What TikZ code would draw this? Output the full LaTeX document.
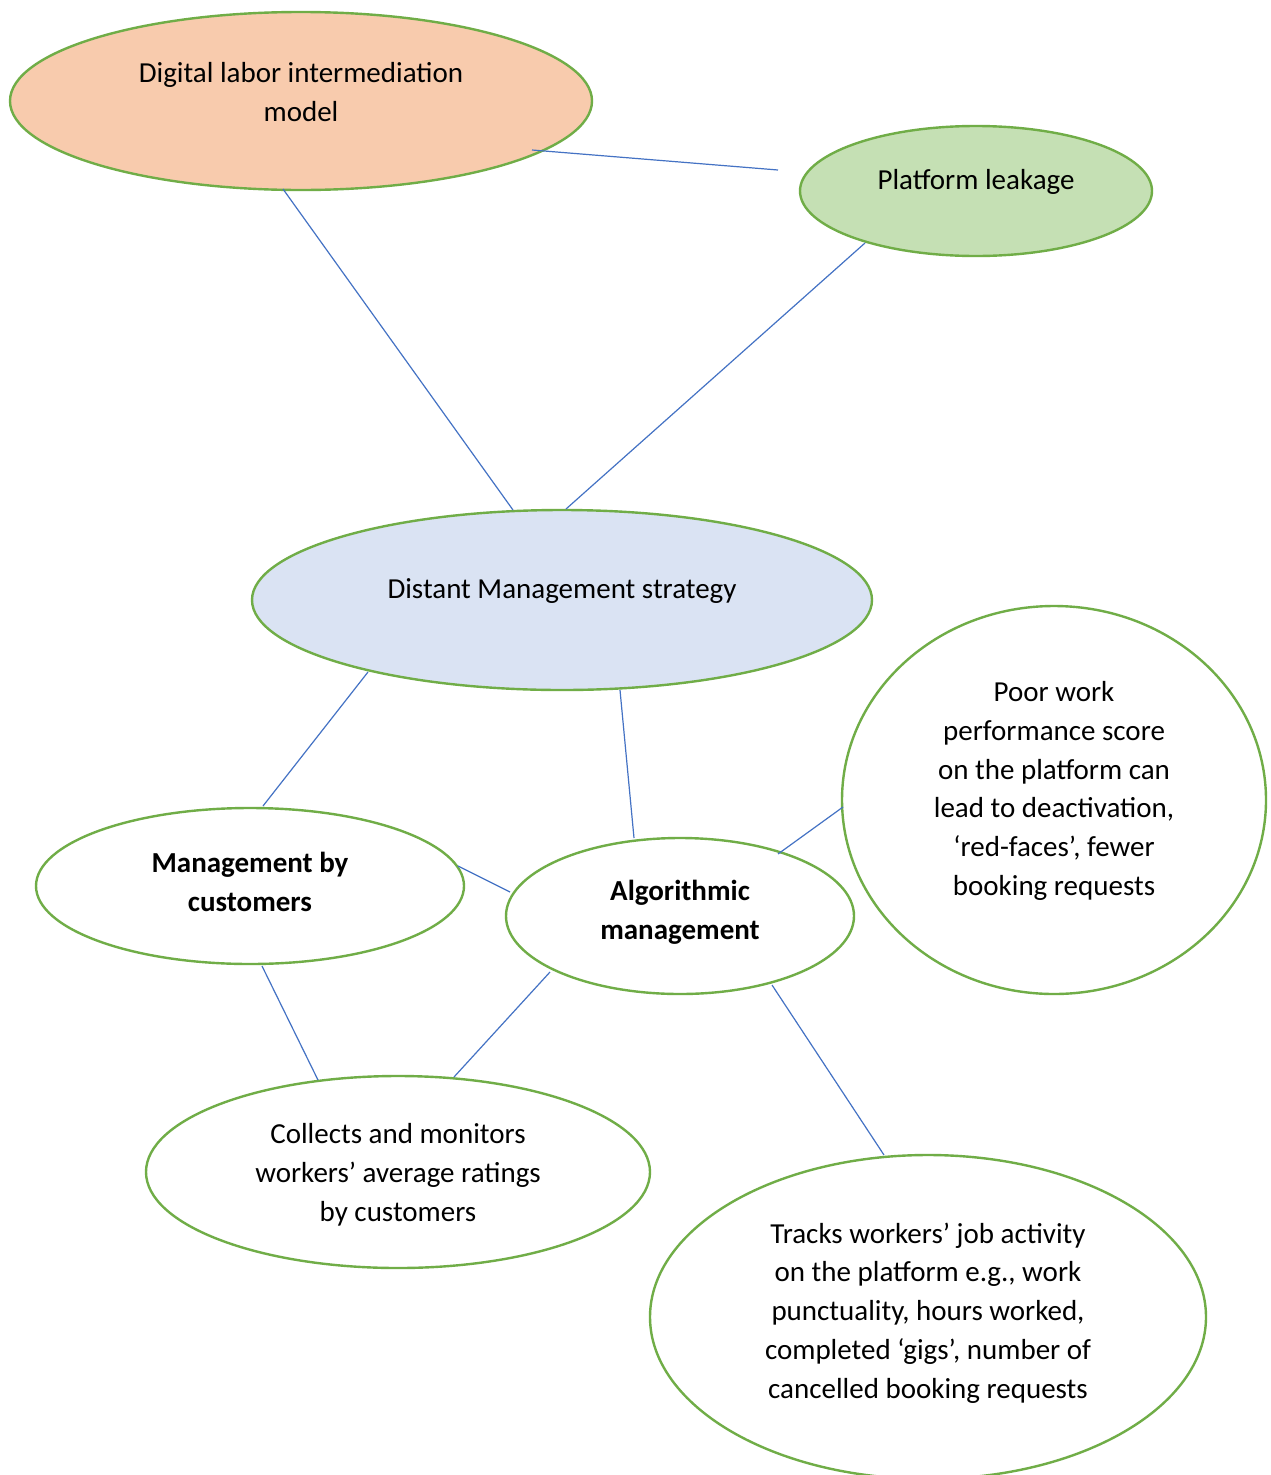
\documentclass[tikz,border=0pt]{standalone}
\usepackage{fontspec}
\setmainfont{Carlito}
\usetikzlibrary{shapes.geometric}
\definecolor{bord}{HTML}{70AD47}
\definecolor{conn}{HTML}{4472C4}
\definecolor{peach}{HTML}{F8CBAD}
\definecolor{lgreen}{HTML}{C5E0B4}
\definecolor{lblue}{HTML}{DAE3F3}
\tikzset{
  ell/.style={ellipse, draw=bord, line width=2.4pt, inner sep=0pt},
  txt/.style={align=center, font=\fontsize{29}{38.8}\selectfont, inner sep=0pt},
  btxt/.style={txt, font=\fontsize{29}{38.8}\selectfont\bfseries},
  conline/.style={draw=conn, line width=1.2pt}
}
\begin{document}
\begin{tikzpicture}[x=1pt,y=-1pt]
\useasboundingbox (0,0) rectangle (1270,1475);
\clip (0,0) rectangle (1270,1475);
\fill[white] (0,0) rectangle (1270,1475);
% ellipses
\node[ell, fill=peach, minimum width=582pt, minimum height=178pt] (dl) at (301,101) {};
\node[ell, fill=lgreen, minimum width=352pt, minimum height=130pt] (pl) at (976,191) {};
\node[ell, fill=lblue, minimum width=620pt, minimum height=180pt] (dm) at (562,600) {};
\node[ell, fill=white, minimum width=428pt, minimum height=156pt] (mc) at (250,886) {};
\node[ell, fill=white, minimum width=348pt, minimum height=156pt] (am) at (680,916) {};
\node[ell, fill=white, minimum width=424pt, minimum height=388pt] (pw) at (1054,800) {};
\node[ell, fill=white, minimum width=504pt, minimum height=192pt] (cm) at (398,1172) {};
\node[ell, fill=white, minimum width=556pt, minimum height=324pt] (tr) at (928,1317) {};
% texts
\node[txt] (dlt) at (301,92) {Digital labor intermediation\\model};
\node[txt] (plt) at (976,182) {Platform leakage};
\node[txt] (dmt) at (562,591) {Distant Management strategy};
\node[btxt] (mct) at (250,882) {Management by\\customers};
\node[btxt] (amt) at (680,912) {Algorithmic\\management};
\node[txt] (pwt) at (1054,791) {Poor work\\performance score\\on the platform can\\lead to deactivation,\\‘red-faces’, fewer\\booking requests};
\node[txt] (cmt) at (398,1175) {Collects and monitors\\workers’ average ratings\\by customers};
\node[txt] (trt) at (928,1313) {Tracks workers’ job activity\\on the platform e.g., work\\punctuality, hours worked,\\completed ‘gigs’, number of\\cancelled booking requests};
% connector endpoints
\coordinate (a1) at (532,150); \coordinate (a2) at (778,170);
\coordinate (b1) at (283,189); \coordinate (b2) at (513,510);
\coordinate (c1) at (865,243); \coordinate (c2) at (566,509);
\coordinate (d1) at (368,672); \coordinate (d2) at (263,806);
\coordinate (e1) at (620,690); \coordinate (e2) at (634,838);
\coordinate (f1) at (458,866); \coordinate (f2) at (510,892);
\coordinate (g1) at (778,854); \coordinate (g2) at (843,807);
\coordinate (h1) at (262,966); \coordinate (h2) at (318,1080);
\coordinate (i1) at (550,972); \coordinate (i2) at (454,1077);
\coordinate (j1) at (772,985); \coordinate (j2) at (884,1155);
\foreach \s in {a,b,c,d,e,f,g,h,i,j} \draw[conline] (\s1) -- (\s2);
\end{tikzpicture}
\end{document}
